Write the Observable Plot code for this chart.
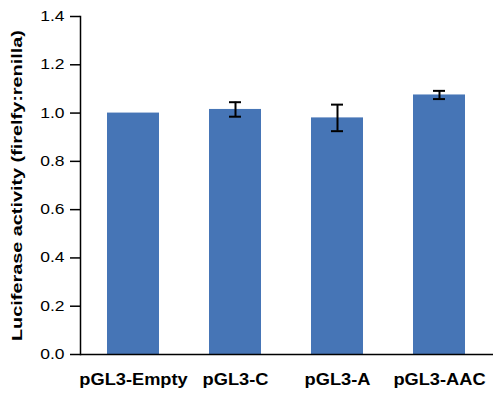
<!DOCTYPE html>
<html>
<head>
<meta charset="utf-8">
<script src="https://cdn.jsdelivr.net/npm/d3@7"></script>
<script src="https://cdn.jsdelivr.net/npm/@observablehq/plot@0.6"></script>
<style>
  html, body { margin: 0; padding: 0; background: #fff; }
</style>
</head>
<body>
<div id="chart"></div>
<script>
// Constructs and their normalised luciferase activity (mean ± error)
const categories = ["pGL3-Empty", "pGL3-C", "pGL3-A", "pGL3-AAC"];
const means = [1.0, 1.015, 0.98, 1.075];
const errors = [0, 0.03, 0.055, 0.017];
const yTicks = [0, 0.2, 0.4, 0.6, 0.8, 1.0, 1.2, 1.4];
const yTitle = "Luciferase activity (firelfy:renilla)";

const rows = categories.map((name, i) => ({name, mean: means[i], err: errors[i]}));
const withErr = rows.filter(d => d.err > 0);

const ink = "#000";
const barFill = "#4675b6";

const chart = Plot.plot({
  width: 493,
  height: 393,
  marginLeft: 80,
  marginRight: 0,
  marginTop: 16,
  marginBottom: 39,
  style: {fontFamily: "'Liberation Sans', Arial, sans-serif", background: "#fff", color: ink},
  x: {domain: categories, paddingInner: 0.487, paddingOuter: 0.25, label: null, axis: null},
  y: {domain: [0, 1.4], label: null, axis: null},
  marks: [
    Plot.barY(rows, {x: "name", y: "mean", fill: barFill}),
    // error bars: stem plus short caps
    Plot.ruleX(withErr, {x: "name", y1: d => d.mean - d.err, y2: d => d.mean + d.err, stroke: ink, strokeWidth: 2}),
    Plot.tickY(withErr, {x: "name", y: d => d.mean + d.err, stroke: ink, strokeWidth: 2, inset: 20}),
    Plot.tickY(withErr, {x: "name", y: d => d.mean - d.err, stroke: ink, strokeWidth: 2, inset: 20}),
    // axes
    Plot.axisY(yTicks, {anchor: "left", tickSize: 10, tickPadding: 6, tickFormat: d => d.toFixed(1),
      fontSize: 14, stroke: ink, strokeWidth: 1.5, fill: ink}),
    Plot.axisX({anchor: "bottom", tickSize: 0, tickPadding: 19, fontSize: 16, fontWeight: "bold", fill: ink}),
    Plot.frame({anchor: "left", stroke: ink, strokeWidth: 1.5}),
    Plot.ruleY([0], {stroke: ink, strokeWidth: 1.5}),
    Plot.text([yTitle], {frameAnchor: "left", dx: -63, rotate: -90, fontSize: 15.5,
      fontWeight: "bold", fill: ink})
  ]
});

document.getElementById("chart").appendChild(chart);

// widen glyphs a little to the chart's typographic proportions
function stretch(selector, k, recenter) {
  chart.querySelectorAll(selector).forEach(el => {
    const len = el.getComputedTextLength() * k;
    el.setAttribute("textLength", len.toFixed(1));
    el.setAttribute("lengthAdjust", "spacingAndGlyphs");
    if (recenter) {
      el.setAttribute("text-anchor", "start");
      el.setAttribute("x", (-len / 2).toFixed(1));
    }
  });
}
stretch('[aria-label="y-axis tick label"] text', 1.25, false);
stretch('[aria-label="x-axis tick label"] text', 1.14, false);
stretch('g[aria-label="text"] text', 1.28, true);
</script>
</body>
</html>
